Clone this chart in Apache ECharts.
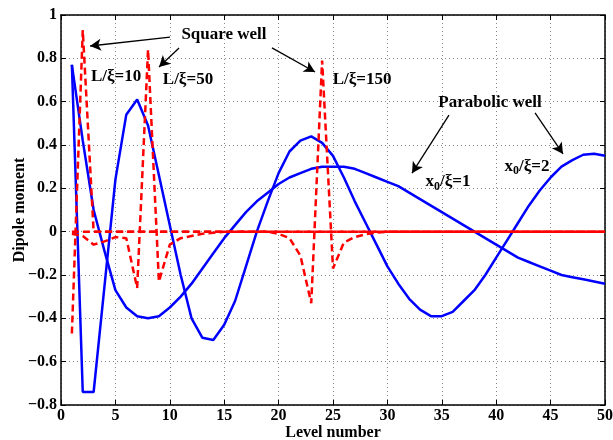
<!DOCTYPE html>
<html>
<head>
<meta charset="utf-8">
<script src="https://cdn.jsdelivr.net/npm/echarts@6/dist/echarts.min.js"></script>
<style>html,body{margin:0;padding:0;background:#fff}#c{width:613px;height:440px}</style>
</head>
<body>
<div id="c"></div>
<script>
var levels = [1,2,3,4,5,6,7,8,9,10,11,12,13,14,15,16,17,18,19,20,21,22,23,24,25,26,27,28,29,30,31,32,33,34,35,36,37,38,39,40,41,42,43,44,45,46,47,48,49,50];

// Parabolic well x0/xi = 2
var parab2 = [0.77,-0.74,-0.74,-0.25,0.24,0.54,0.61,0.49,0.26,0.03,
  -0.20,-0.40,-0.49,-0.50,-0.43,-0.32,-0.16,0.00,0.14,0.27,
  0.37,0.42,0.44,0.41,0.35,0.25,0.14,0.04,-0.06,-0.16,
  -0.24,-0.31,-0.36,-0.39,-0.39,-0.37,-0.32,-0.27,-0.20,-0.12,
  -0.04,0.04,0.12,0.19,0.25,0.30,0.33,0.355,0.36,0.35];

// Parabolic well x0/xi = 1
var parab1 = [0.77,0.42,0.10,-0.09,-0.27,-0.35,-0.39,-0.40,-0.39,-0.35,
  -0.30,-0.24,-0.17,-0.10,-0.03,0.03,0.09,0.14,0.18,0.22,
  0.25,0.27,0.29,0.30,0.30,0.30,0.29,0.27,0.25,0.23,
  0.21,0.18,0.15,0.12,0.09,0.06,0.03,0.00,-0.03,-0.06,
  -0.09,-0.12,-0.14,-0.16,-0.18,-0.20,-0.21,-0.22,-0.23,-0.24];

// Square well L/xi = 10
var sq10 = [-0.47,0.93,0,0,0,0,0,0,0,0,
  0,0,0,0,0,0,0,0,0,0,
  0,0,0,0,0,0,0,0,0,0,
  0,0,0,0,0,0,0,0,0,0,
  0,0,0,0,0,0,0,0,0,0];

// Square well L/xi = 50
var sq50 = [-0.01,-0.02,-0.06,-0.045,-0.025,-0.03,-0.26,0.84,-0.23,-0.06,
  -0.03,-0.02,-0.01,-0.005,0,0,0,0,0,0,
  0,0,0,0,0,0,0,0,0,0,
  0,0,0,0,0,0,0,0,0,0,
  0,0,0,0,0,0,0,0,0,0];

// Square well L/xi = 150
var sq150 = [0,0,0,0,0,0,0,0,0,0,
  0,0,0,0,0,0,0,0,0,-0.01,
  -0.03,-0.11,-0.33,0.79,-0.17,-0.05,-0.025,-0.012,-0.005,0,
  0,0,0,0,0,0,0,0,0,0,
  0,0,0,0,0,0,0,0,0,0];

var xTicks = [0,5,10,15,20,25,30,35,40,45,50];
var yTicks = [-0.8,-0.6,-0.4,-0.2,0,0.2,0.4,0.6,0.8,1];

// annotations in data coordinates
var arrows = [
  [[10.02,0.898],[2.67,0.857]],
  [[10.85,0.848],[9.01,0.760]],
  [[19.39,0.848],[23.35,0.737]],
  [[35.66,0.538],[32.26,0.270]],
  [[43.57,0.548],[46.14,0.359]]
];
var labels = [
  {text:'Square well', at:[14.98,0.908]},
  {text:'L/ξ=10', at:[5.06,0.714]},
  {text:'L/ξ=50', at:[11.67,0.704]},
  {text:'L/ξ=150', at:[27.67,0.700]},
  {text:'Parabolic well', at:[39.43,0.594]},
  {text:'{a|x}{s|0}{a|/ξ=1}', at:[35.57,0.229], rich:true},
  {text:'{a|x}{s|0}{a|/ξ=2}', at:[42.83,0.299], rich:true}
];

function pairs(ys){ return levels.map(function(x,i){ return [x, ys[i]]; }); }
var FONT = 'Liberation Serif';
function fmt(v){ var r = Math.round(v*10)/10; return String(r).replace('-', '\u2212'); }

var chart = echarts.init(document.getElementById('c'), null, {renderer:'canvas'});
var axisCommon = {
  axisLine:{show:true, onZero:false, lineStyle:{color:'#000', width:1.5}},
  axisTick:{show:true, inside:true, length:5, lineStyle:{color:'#000', width:1}},
};
var blue = {color:'#0000ff', width:2.5};
var red = {color:'#ff0000', width:2.5, type:[7,4]};
function ser(name, ys, ls){
  return {name:name, type:'line', data:pairs(ys), showSymbol:false, symbol:'none',
    lineStyle:ls, itemStyle:{color:ls.color}, animation:false, z:ls.type?3:2};
}
chart.setOption({
  animation:false,
  grid:{left:61, right:8, top:15, bottom:35, containLabel:false, outerBoundsMode:'none'},
  xAxis:[
    Object.assign({type:'value', min:0, max:50, interval:5, position:'bottom',
      name:'Level number', nameLocation:'middle', nameGap:20, nameMoveOverlap:false,
      nameTextStyle:{fontFamily:FONT, fontWeight:'bold', fontSize:16, color:'#000'},
      axisLabel:{fontFamily:FONT, fontWeight:'bold', fontSize:16, color:'#000', margin:3},
      splitLine:{show:true, lineStyle:{color:'#888', width:1, type:[1,3]}}}, axisCommon),
    Object.assign({type:'value', min:0, max:50, interval:5, position:'top',
      axisLabel:{show:false}, splitLine:{show:false}}, axisCommon)
  ],
  yAxis:[
    Object.assign({type:'value', min:-0.8, max:1, interval:0.2, position:'left',
      name:'Dipole moment', nameLocation:'middle', nameGap:33, nameMoveOverlap:false,
      nameTextStyle:{fontFamily:FONT, fontWeight:'bold', fontSize:16, color:'#000'},
      axisLabel:{fontFamily:FONT, fontWeight:'bold', fontSize:16, color:'#000', margin:4, formatter:fmt},
      splitLine:{show:true, lineStyle:{color:'#888', width:1, type:[1,3]}}}, axisCommon),
    Object.assign({type:'value', min:-0.8, max:1, interval:0.2, position:'right',
      axisLabel:{show:false}, splitLine:{show:false}}, axisCommon)
  ],
  series:[
    ser('x0/ξ=2', parab2, blue),
    ser('x0/ξ=1', parab1, blue),
    ser('L/ξ=10', sq10, red),
    ser('L/ξ=50', sq50, red),
    ser('L/ξ=150', sq150, red),
    {type:'line', data:[], silent:true, animation:false,
      markLine:{silent:true, animation:false, symbol:['none','arrow'], symbolSize:[9,11],
        lineStyle:{color:'#000', width:1.3, type:'solid'}, label:{show:false},
        data: arrows.map(function(a){ return [{coord:a[0]},{coord:a[1]}]; })}}
  ]
});

var g = labels.map(function(l){
  var p = chart.convertToPixel({gridIndex:0}, l.at);
  var style = {text:l.text, x:p[0], y:p[1], align:'center', verticalAlign:'middle',
    fontFamily:FONT, fontWeight:'bold', fontSize:17, fill:'#000'};
  if (l.rich) {
    style.rich = {
      a:{fontFamily:FONT, fontWeight:'bold', fontSize:17, fill:'#000', color:'#000'},
      s:{fontFamily:FONT, fontWeight:'bold', fontSize:12, fill:'#000', color:'#000', padding:[9,0,0,0]}
    };
  }
  return {type:'text', z:100, style:style};
});
chart.setOption({graphic:g});
</script>
</body>
</html>
